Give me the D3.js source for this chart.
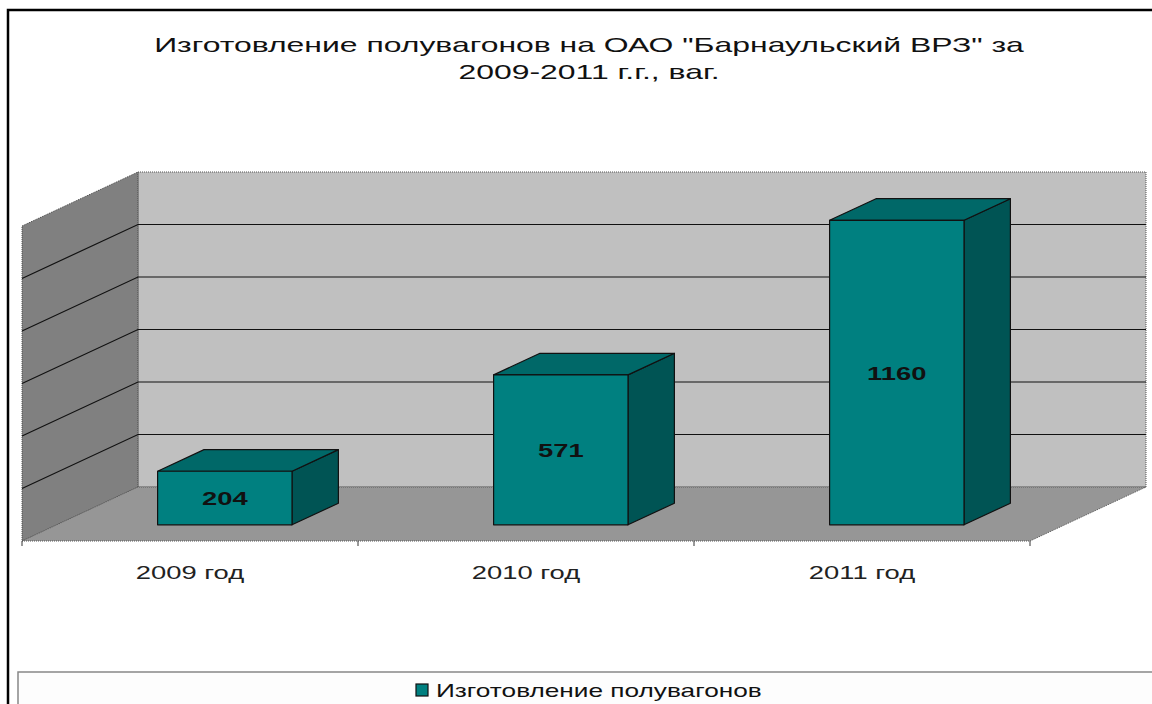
<!DOCTYPE html>
<html>
<head>
<meta charset="utf-8">
<script src="https://cdn.jsdelivr.net/npm/d3@7"></script>
<style>
  body { margin: 0; background: #fff; }
  text { font-family: "Liberation Sans", Arial, sans-serif; }
</style>
</head>
<body>
<div id="chart"></div>
<script>
// data
const categories = ["2009 год", "2010 год", "2011 год"];
const values = [204, 571, 1160];
const seriesName = "Изготовление полувагонов";
const yTicks = [0, 200, 400, 600, 800, 1000, 1200];
const titleLines = ["Изготовление полувагонов на ОАО \"Барнаульский ВРЗ\" за", "2009-2011 г.г., ваг."];

const W = 1152, H = 704;

// front floor corner and depth offsets for the fake 3d
const x0 = 22, y0 = 541;
const DX = 116, DY = 54;
const zFront = 0.3, zBack = 0.7;
// the original picture is stretched sideways, so text is widened too
const stretch = 1.52;

const svg = d3.select("#chart")
  .append("svg")
  .attr("width", W)
  .attr("height", H);

function widen(sel, k) {
  sel.each(function () {
    const len = this.getComputedTextLength();
    d3.select(this)
      .attr("textLength", len * (k || stretch))
      .attr("lengthAdjust", "spacingAndGlyphs");
  });
}

// chart frame
svg.append("rect")
  .attr("x", 8).attr("y", 10)
  .attr("width", W + 20).attr("height", H + 20)
  .attr("fill", "#fff")
  .attr("stroke", "#000")
  .attr("stroke-width", 2.5);

const x = d3.scaleBand().domain(categories).range([0, 1008]).paddingInner(0).paddingOuter(0);
const y = d3.scaleLinear().domain([0, 1200]).range([0, 315]);

// project (horizontal pos, value, depth) to screen
function pt(px, v, z) {
  return [x0 + px + DX * z, y0 - y(v) - DY * z];
}
const line = d3.line();

const yMax = d3.max(yTicks);
const xEnd = x.range()[1];

// back wall
svg.append("path")
  .attr("d", line([pt(0, 0, 1), pt(xEnd, 0, 1), pt(xEnd, yMax, 1), pt(0, yMax, 1)]) + "Z")
  .attr("fill", "#c0c0c0")
  .attr("stroke", "#555")
  .attr("stroke-dasharray", "1,1");

// left wall
svg.append("path")
  .attr("d", line([pt(0, 0, 0), pt(0, 0, 1), pt(0, yMax, 1), pt(0, yMax, 0)]) + "Z")
  .attr("fill", "#808080")
  .attr("stroke", "#444")
  .attr("stroke-dasharray", "1,1");

// floor
svg.append("path")
  .attr("d", line([pt(0, 0, 0), pt(xEnd, 0, 0), pt(xEnd, 0, 1), pt(0, 0, 1)]) + "Z")
  .attr("fill", "#969696")
  .attr("stroke", "#555")
  .attr("stroke-dasharray", "1,1");

// gridlines
const grid = svg.append("g")
  .attr("stroke", "#111")
  .attr("stroke-width", 1.2)
  .attr("fill", "none");
yTicks.filter(t => t > 0 && t < yMax).forEach(t => {
  grid.append("path").attr("d", line([pt(0, t, 0), pt(0, t, 1), pt(xEnd, t, 1)]));
});

// category ticks on floor front edge
const tickPos = categories.map(c => x(c)).concat([xEnd]);
svg.append("g")
  .selectAll("line")
  .data(tickPos)
  .join("line")
  .attr("x1", d => pt(d, 0, 0)[0])
  .attr("x2", d => pt(d, 0, 0)[0])
  .attr("y1", y0)
  .attr("y2", y0 + 5)
  .attr("stroke", "#333");

// category labels
svg.append("g")
  .selectAll("text")
  .data(categories)
  .join("text")
  .attr("x", d => pt(x(d) + x.bandwidth() / 2, 0, 0)[0])
  .attr("y", y0 + 38)
  .attr("text-anchor", "middle")
  .style("font-size", "18px")
  .attr("fill", "#222")
  .text(d => d)
  .call(widen);

// bars
const barW = x.bandwidth() / 2.5;
const bars = svg.append("g")
  .selectAll("g")
  .data(categories.map((c, i) => ({ cat: c, v: values[i] })))
  .join("g")
  .attr("stroke", "#111")
  .attr("stroke-width", 1.2)
  .attr("stroke-linejoin", "round");

function xl(d) { return x(d.cat) + (x.bandwidth() - barW) / 2; }
function xr(d) { return xl(d) + barW; }

// side face
bars.append("path")
  .attr("fill", "#005454")
  .attr("d", d => line([pt(xr(d), 0, zFront), pt(xr(d), 0, zBack), pt(xr(d), d.v, zBack), pt(xr(d), d.v, zFront)]) + "Z");
// top face
bars.append("path")
  .attr("fill", "#006868")
  .attr("d", d => line([pt(xl(d), d.v, zFront), pt(xr(d), d.v, zFront), pt(xr(d), d.v, zBack), pt(xl(d), d.v, zBack)]) + "Z");
// front face
bars.append("path")
  .attr("fill", "#008080")
  .attr("d", d => line([pt(xl(d), 0, zFront), pt(xr(d), 0, zFront), pt(xr(d), d.v, zFront), pt(xl(d), d.v, zFront)]) + "Z");

// value labels
bars.append("text")
  .attr("stroke", "none")
  .attr("fill", "#111")
  .attr("x", d => pt((xl(d) + xr(d)) / 2, 0, zFront)[0])
  .attr("y", d => pt(0, d.v / 2, zFront)[1] + 7)
  .attr("text-anchor", "middle")
  .style("font-size", "18px")
  .style("font-weight", "bold")
  .text(d => d.v)
  .call(widen);

// title
svg.append("g")
  .selectAll("text")
  .data(titleLines)
  .join("text")
  .attr("x", 589)
  .attr("y", (d, i) => 52 + i * 27)
  .attr("text-anchor", "middle")
  .style("font-size", "21px")
  .attr("fill", "#111")
  .text(d => d)
  .call(widen);

// legend box
svg.append("rect")
  .attr("x", 18).attr("y", 672)
  .attr("width", W).attr("height", 60)
  .attr("fill", "#fdfdfd")
  .attr("stroke", "#888")
  .attr("stroke-width", 1.5);
svg.append("rect")
  .attr("x", 416).attr("y", 684)
  .attr("width", 12).attr("height", 12)
  .attr("fill", "#008080")
  .attr("stroke", "#111")
  .attr("stroke-width", 1.2);
svg.append("text")
  .attr("x", 436).attr("y", 697)
  .style("font-size", "19px")
  .attr("fill", "#111")
  .text(seriesName)
  .call(widen, 1.38);
</script>
</body>
</html>
